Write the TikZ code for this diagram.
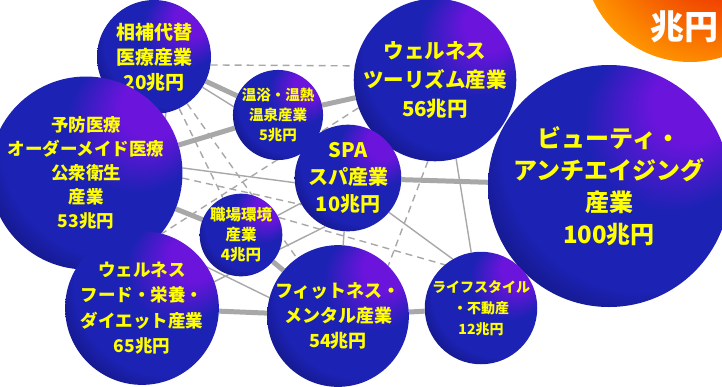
\documentclass[tikz,border=0pt]{standalone}
\usepackage{fontspec}
\newfontfamily\jp{Noto Sans CJK JP}
\usetikzlibrary{backgrounds}
\definecolor{lgray}{HTML}{A8A8A8}
\definecolor{navyd}{HTML}{08084A}
\definecolor{bblue}{HTML}{1C22B4}
\definecolor{purp}{HTML}{6A14DC}
\definecolor{tyellow}{HTML}{FFFF00}
\definecolor{oorange}{HTML}{FF9600}
\definecolor{ored}{HTML}{E40000}
\pgfdeclareradialshading{bubshade}{\pgfpoint{20bp}{20bp}}{color(0bp)=(purp); color(8bp)=(purp); color(18bp)=(bblue); color(30bp)=(bblue); color(42bp)=(navyd); color(50bp)=(navyd)}
\pgfdeclareradialshading{orshade}{\pgfpoint{20bp}{20bp}}{color(0bp)=(ored); color(12bp)=(ored); color(22bp)=(oorange!45!ored); color(34bp)=(oorange); color(50bp)=(oorange)}
\tikzset{
  bub/.style={circle, inner sep=0pt, shading=bubshade, text=tyellow, align=center, minimum size=#1},
  fs/.style 2 args={font=\jp\bfseries\fontsize{#1}{#2}\selectfont},
  con/.style={draw=lgray, line width=5pt},
  thinc/.style={draw=lgray, line width=1.4pt},
  dashc/.style={draw=lgray, line width=1.4pt, dash pattern=on 7pt off 5pt}
}
\begin{document}
\begin{tikzpicture}[x=1pt,y=1pt]
\useasboundingbox (0,0) rectangle (722,-386);
\node[circle, inner sep=0pt, minimum size=214pt, shading=orshade] (O) at (690,45) {};
\node[font=\jp\bfseries\fontsize{34}{34}\selectfont, text=white, inner sep=0pt] (Ot) at (684,-27) {兆円};
\node[bub=114pt, fs={19}{25}] (A) at (154,-57) {相補代替\\医療産業\\20兆円};
\node[bub=140pt, fs={17.5}{24}] (B) at (86,-173) {予防医療\\オーダーメイド医療\\公衆衛生\\産業\\53兆円};
\node[bub=82pt, fs={14.5}{20}] (C) at (278,-115) {温浴・温熱\\温泉産業\\5兆円};
\node[bub=144pt, fs={20.5}{29}] (D) at (435,-80) {ウェルネス\\ツーリズム産業\\56兆円};
\node[bub=100pt, fs={20}{27}] (E) at (348,-178) {SPA\\スパ産業\\10兆円};
\node[bub=242pt, fs={24}{32}] (F) at (609,-186) {ビューティ・\\アンチエイジング\\産業\\100兆円};
\node[bub=82pt, fs={15.5}{20}] (G) at (241,-235) {職場環境\\産業\\4兆円};
\node[bub=152pt, fs={17.5}{25.5}] (H) at (142,-308) {ウェルネス\\フード・栄養・\\ダイエット産業\\65兆円};
\node[bub=136pt, fs={18}{25}] (I) at (338,-316) {フィットネス・\\メンタル産業\\54兆円};
\node[bub=106pt, fs={14}{21}] (J) at (481,-308) {ライフスタイル\\・不動産\\12兆円};
\begin{scope}[on background layer]
\fill[white] (0,0) rectangle (722,-386);
\draw[con] (A) -- (C);
\draw[con] (A) -- (B);
\draw[con] (B) -- (C);
\draw[con] (C) -- (D);
\draw[con] (D) -- (E);
\draw[con] (E) -- (F);
\draw[con] (B) -- (G);
\draw[con] (G) -- (I);
\draw[con] (H) -- (I);
\draw[con] (I) -- (J);
\draw[thinc] (A) -- (E);
\draw[thinc] (A.-78) -- (H.84);
\draw[thinc] (B.3) -- (E.185);
\draw[thinc] (B.-45) -- (I.165);
\draw[thinc] (G) -- (E);
\draw[thinc] (H.20) -- (E.245);
\draw[thinc] (E) -- (I);
\draw[thinc] (E.-40) -- (J.120);
\draw[thinc] (D.-75) -- (J.100);
\draw[dashc] (A.-8) -- (D.170);
\draw[dashc] (A) -- (G);
\draw[dashc] (A) -- (I);
\draw[dashc] (D.200) -- (H.75);
\draw[dashc] (D.-95) -- (I.45);
\draw[dashc] (G.25) -- (J.130);
\draw[dashc] (B.-3) -- (E.210);
\end{scope}
\end{tikzpicture}
\end{document}
